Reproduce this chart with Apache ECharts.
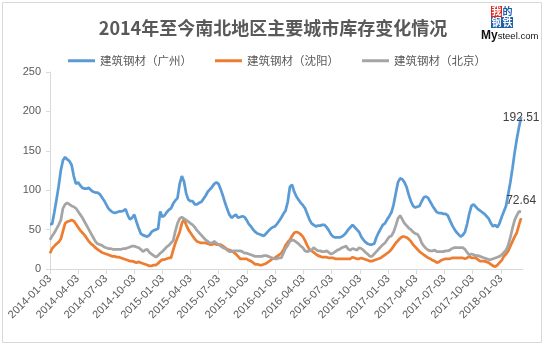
<!DOCTYPE html>
<html>
<head>
<meta charset="utf-8">
<script src="https://cdn.jsdelivr.net/npm/echarts@6/dist/echarts.min.js"></script>
<style>
  html, body { margin: 0; padding: 0; background: #fff; }
  #chart { width: 546px; height: 350px; }
</style>
</head>
<body>
<div id="chart"></div>
<script>
// 周度数据，从 2014-01-03 起每周一个点
const startDate = '2014-01-03'
const axisEnd = '2018-03-15'
const tickLabels = [
  '2014-01-03', '2014-04-03', '2014-07-03', '2014-10-03',
  '2015-01-03', '2015-04-03', '2015-07-03', '2015-10-03',
  '2016-01-03', '2016-04-03', '2016-07-03', '2016-10-03',
  '2017-01-03', '2017-04-03', '2017-07-03', '2017-10-03',
  '2018-01-03'
]
const seriesNames = ['建筑钢材（广州）', '建筑钢材（沈阳）', '建筑钢材（北京）']

const guangzhou = [
  57, 57, 72, 88, 105, 125, 138, 142, 139, 137,
  132, 118, 108, 110, 106, 103, 102, 102, 103, 100,
  98, 97, 97, 95, 91, 87, 82, 77, 74, 72,
  71, 72, 73, 73, 74, 76, 68, 63, 65, 69,
  60, 52, 45, 43, 42, 41, 43, 47, 49, 50,
  51, 73, 66, 68, 72, 75, 77, 83, 87, 90,
  108, 118, 111, 96, 88, 86, 86, 82, 82, 84,
  85, 89, 93, 98, 101, 104, 108, 110, 108, 101,
  93, 84, 76, 69, 65, 67, 69, 65, 66, 67,
  66, 62, 57, 54, 50, 47, 45, 44, 43, 42,
  45, 48, 51, 53, 54, 57, 61, 65, 70, 74,
  85, 104, 107, 98, 92, 88, 84, 81, 77, 70,
  63, 58, 56, 54, 55, 55, 56, 56, 53, 49,
  44, 41, 40, 40, 40, 41, 43, 46, 50, 53,
  56, 53, 50, 47, 41, 37, 34, 32, 31, 31,
  32, 40, 46, 51, 56, 58, 63, 67, 72, 82,
  96, 110, 115, 114, 110, 104, 94, 86, 80, 78,
  79, 80, 86, 91, 92, 90, 85, 80, 76, 72,
  71, 71, 70, 70, 68, 62, 56, 51, 47, 44,
  41, 43, 47, 57, 70, 80, 82, 79, 76, 74,
  72, 70, 67, 64, 58, 54, 56, 53, 58, 66,
  73, 80, 95, 110, 128, 148, 165, 180, 192.51
]
const shenyang = [
  20, 26, 29, 32, 34, 38, 48, 58, 60, 61,
  62, 61, 57, 53, 49, 46, 43, 39, 35, 32,
  30, 27, 25, 23, 21, 20, 19, 18, 17, 16,
  16, 15, 15, 14, 13, 12, 11, 10, 10, 9,
  8, 9, 8, 7, 6, 5, 4, 4, 5, 5,
  7, 10, 12, 12, 13, 14, 14, 24, 33, 40,
  47, 58, 63, 56, 50, 46, 42, 38, 35, 34,
  33, 33, 33, 32, 31, 31, 32, 31, 31, 31,
  29, 27, 25, 24, 23, 21, 19, 16, 13, 13,
  13, 13, 11, 10, 8, 6, 6, 5, 5, 6,
  7, 9, 11, 13, 14, 16, 18, 20, 24, 30,
  34, 37, 42, 46, 47, 46, 44, 41, 36, 30,
  25, 23, 21, 19, 17, 16, 15, 15, 15, 14,
  14, 14, 13, 13, 13, 13, 13, 13, 13, 13,
  15, 14, 13, 13, 14, 13, 12, 11, 10, 10,
  11, 12, 13, 14, 16, 18, 20, 22, 25, 29,
  33, 36, 39, 41, 41, 40, 38, 35, 31, 28,
  25, 22, 20, 18, 16, 14, 13, 11, 10, 8,
  9, 11, 12, 13, 13, 13, 14, 14, 14, 14,
  14, 14, 13, 14, 16, 14, 14, 14, 12, 10,
  10, 10, 9, 8, 6, 4, 3, 5, 8, 11,
  16, 19, 23, 29, 35, 41, 46, 56, 64.5
]
const beijing = [
  37, 42, 46, 51, 56, 62, 77, 82, 84, 82,
  80, 79, 77, 73, 69, 65, 60, 55, 50, 45,
  40, 35, 32, 31, 30, 28, 27, 26, 26, 25,
  25, 25, 25, 25, 26, 26, 27, 28, 29, 29,
  28, 27, 25, 22, 24, 25, 21, 19, 17, 15,
  17, 20, 22, 25, 28, 30, 33, 36, 48, 58,
  64, 66, 64, 62, 60, 58, 56, 53, 49, 46,
  43, 40, 37, 35, 33, 33, 35, 33, 31, 29,
  27, 26, 24, 22, 22, 23, 23, 23, 23, 22,
  20, 20, 19, 18, 17, 16, 16, 16, 16, 17,
  17, 16, 15, 14, 13, 13, 14, 14, 20, 26,
  30, 35, 37, 36, 34, 32, 29, 27, 23, 22,
  23, 24, 27, 25, 23, 23, 22, 22, 23, 21,
  19, 20, 22, 24, 25, 27, 28, 29, 25, 24,
  26, 25, 24, 27, 26, 24, 21, 19, 16, 16,
  19, 22, 25, 28, 31, 33, 37, 41, 42, 47,
  55, 64, 68, 63, 58, 55, 52, 50, 47, 45,
  44, 40, 33, 29, 26, 24, 23, 23, 24, 22,
  22, 22, 22, 23, 23, 24, 26, 27, 27, 27,
  27, 27, 25, 21, 18, 19, 18, 17, 17, 16,
  15, 14, 13, 12, 12, 13, 14, 15, 16, 18,
  21, 24, 30, 40, 52, 62, 68, 73, 72.64
]

// 日期 -> 距起始日的天数（x 轴用天数作数值轴）
function dayOf (s) {
  const p = s.split('-').map(Number)
  const q = startDate.split('-').map(Number)
  return Math.round((Date.UTC(p[0], p[1] - 1, p[2]) - Date.UTC(q[0], q[1] - 1, q[2])) / 86400000)
}

const tickDays = tickLabels.map(dayOf)
const pair = arr => arr.map((v, i) => [i * 7, v])

const baseFont = "'Liberation Sans', 'Noto Sans CJK SC', sans-serif"
const cjkFont = "'Noto Sans CJK SC', sans-serif"
const axisColor = '#d9d9d9'

// 标志小方块
function logoCell (ch, x, y, bg, fg) {
  return [
    { type: 'rect', shape: { x: x, y: y, width: 11, height: 11 }, style: { fill: bg } },
    {
      type: 'text', x: x + 5.5, y: y + 5.5,
      style: { text: ch, fill: fg, fontSize: 10, fontWeight: 'bold', align: 'center', verticalAlign: 'middle', fontFamily: cjkFont }
    }
  ]
}

const chart = echarts.init(document.getElementById('chart'))
chart.setOption({
  animation: false,
  backgroundColor: '#fff',
  textStyle: { fontFamily: baseFont },
  title: {
    text: '2014年至今南北地区主要城市库存变化情况',
    left: 'center',
    top: 14,
    textStyle: { fontFamily: cjkFont, fontSize: 18, fontWeight: 'bold', color: '#595959' }
  },
  legend: {
    data: seriesNames,
    left: 63,
    top: 50,
    icon: 'rect',
    itemWidth: 27,
    itemHeight: 3,
    itemGap: 23,
    textStyle: { fontFamily: cjkFont, fontSize: 11.5, color: '#595959' }
  },
  grid: { left: 50, right: 23, top: 72, bottom: 81 },
  xAxis: {
    type: 'value',
    min: 0,
    max: dayOf(axisEnd),
    axisLine: { lineStyle: { color: axisColor } },
    axisTick: { show: true, customValues: tickDays, length: 5, lineStyle: { color: axisColor } },
    axisLabel: {
      customValues: tickDays,
      rotate: 45,
      margin: 8,
      fontSize: 11,
      color: '#595959',
      formatter: v => tickLabels[tickDays.indexOf(v)] || ''
    },
    splitLine: { show: false }
  },
  yAxis: {
    type: 'value',
    min: 0,
    max: 250,
    interval: 50,
    axisLine: { show: true, lineStyle: { color: axisColor } },
    axisTick: { show: true, length: 4, lineStyle: { color: axisColor } },
    axisLabel: { fontSize: 11, color: '#595959', margin: 9 },
    splitLine: { show: false }
  },
  series: [
    {
      name: seriesNames[0],
      type: 'line',
      symbol: 'none',
      data: pair(guangzhou),
      lineStyle: { width: 2.75, color: '#5b9bd5' },
      itemStyle: { color: '#5b9bd5' },
      endLabel: {
        show: true,
        formatter: p => String(p.value[1]),
        align: 'center',
        verticalAlign: 'middle',
        distance: 0,
        fontSize: 12,
        color: '#404040'
      }
    },
    {
      name: seriesNames[1],
      type: 'line',
      symbol: 'none',
      data: pair(shenyang),
      lineStyle: { width: 2.75, color: '#ed7d31' },
      itemStyle: { color: '#ed7d31' }
    },
    {
      name: seriesNames[2],
      type: 'line',
      symbol: 'none',
      data: pair(beijing),
      lineStyle: { width: 2.75, color: '#a5a5a5' },
      itemStyle: { color: '#a5a5a5' },
      endLabel: {
        show: true,
        formatter: p => String(p.value[1]),
        align: 'center',
        verticalAlign: 'bottom',
        distance: 0,
        padding: [0, 0, 5, 0],
        fontSize: 12,
        color: '#404040'
      }
    }
  ],
  graphic: [
    // 图表外框
    {
      type: 'rect',
      shape: { x: 2.5, y: 2.5, width: 539, height: 340 },
      style: { fill: 'none', stroke: axisColor, lineWidth: 1 },
      silent: true
    },
    // Mysteel 标志
    ...logoCell('我', 491, 6, '#e2231a', '#fff'),
    ...logoCell('的', 502, 6, '#fff', '#1f5fa8'),
    ...logoCell('钢', 491, 17, '#1f5fa8', '#fff'),
    ...logoCell('铁', 502, 17, '#1f5fa8', '#fff'),
    {
      type: 'text',
      x: 481,
      y: 30,
      style: {
        text: '{a|My}{b|steel.com}',
        rich: {
          a: { fontSize: 12, fontWeight: 'bold', fill: '#111', fontFamily: "'Liberation Sans'" },
          b: { fontSize: 9.5, fill: '#111', fontFamily: "'Liberation Sans'" }
        }
      }
    }
  ]
})
</script>
</body>
</html>
